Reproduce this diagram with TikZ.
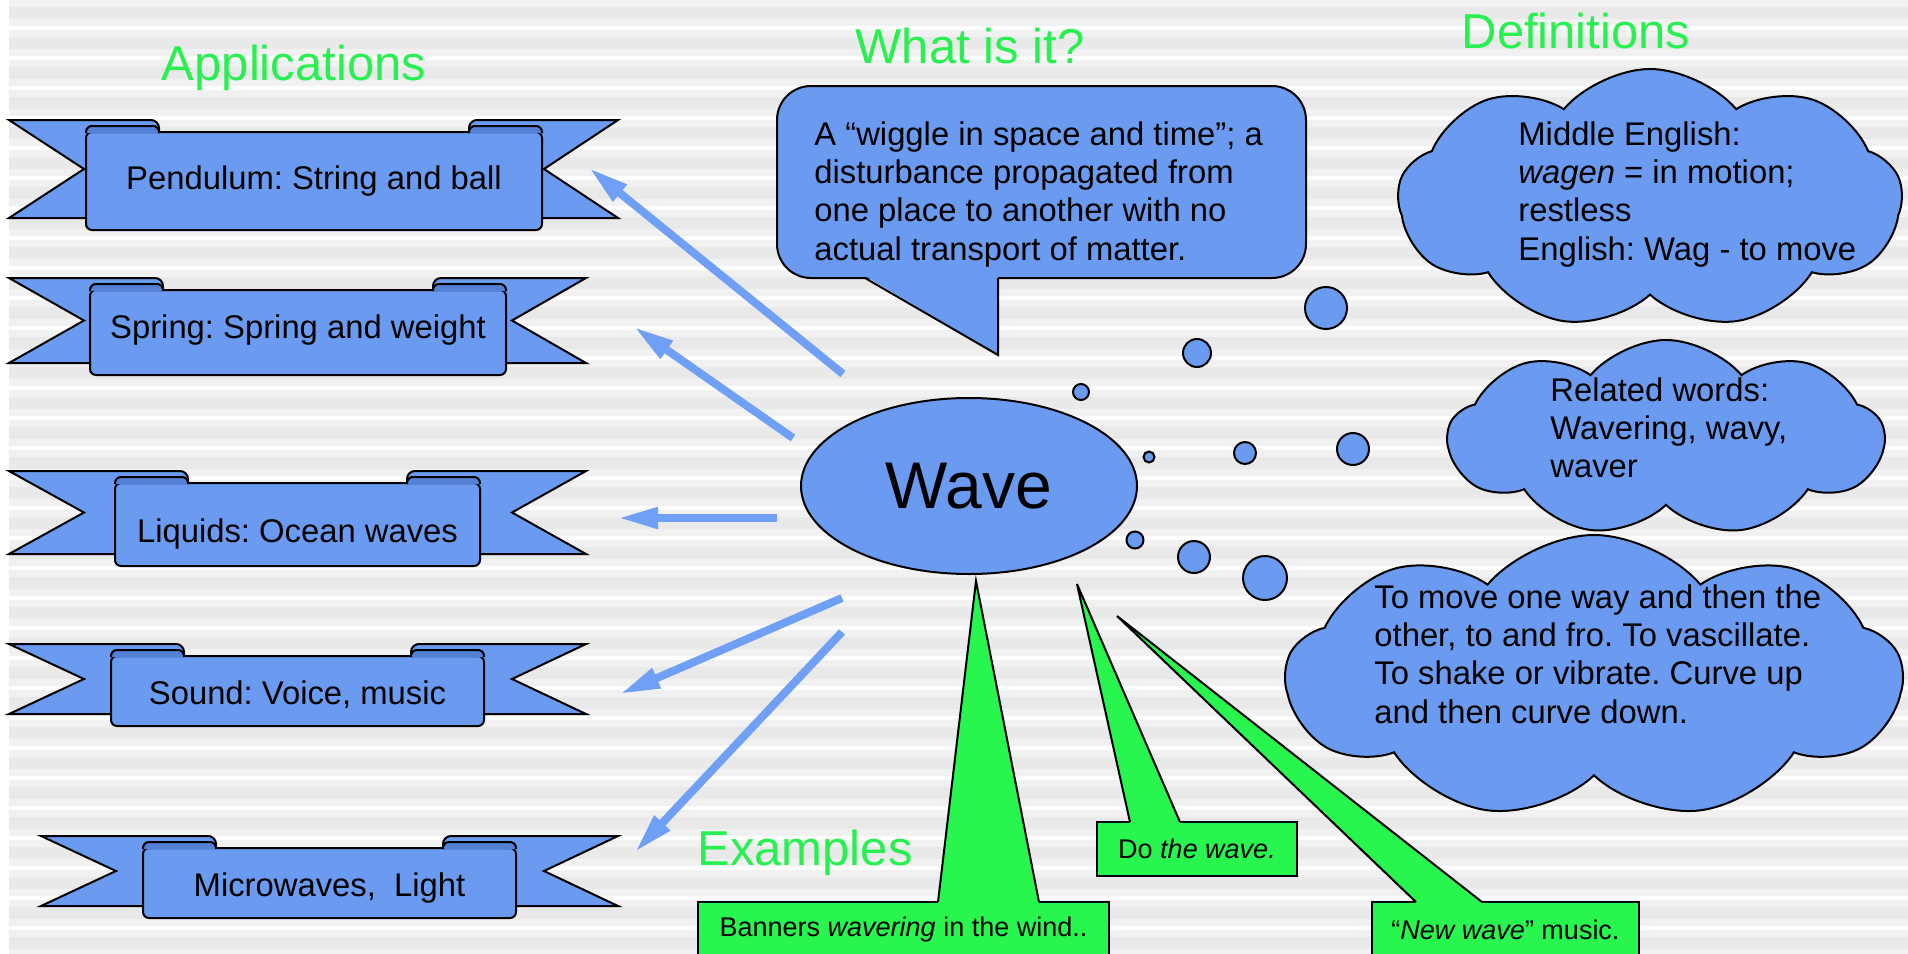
\documentclass[tikz,border=0pt]{standalone}
\usepackage{fontspec}
\setmainfont{Liberation Sans}
\usetikzlibrary{shapes.geometric,shapes.symbols,arrows.meta}
\frenchspacing

\definecolor{shapeblue}{RGB}{106,155,240}
\definecolor{folddark}{RGB}{84,128,214}
\definecolor{arrowblue}{RGB}{111,160,245}
\definecolor{titlegreen}{RGB}{40,240,80}
\definecolor{boxgreen}{RGB}{40,245,78}
\definecolor{bandlight}{RGB}{241,241,241}
\definecolor{banddark}{RGB}{233,233,233}

\begin{document}
\begin{tikzpicture}[x=0.5pt,y=-0.5pt,
  outline/.style={draw=black,line width=1pt},
  bluefill/.style={outline,fill=shapeblue},
  banner/.style={bluefill,rounded corners=3pt,inner sep=0pt,font=\fontsize{16.4}{19.2}\selectfont,text height=12pt,text depth=4pt},
  fold/.style={outline,fill=folddark,rounded corners=3pt},
  bubble/.style={bluefill,circle,inner sep=0pt},
  puff/.style={bluefill,cloud,cloud puffs=9,cloud puff arc=100,cloud ignores aspect,inner sep=0pt},
  bodytext/.style={anchor=north west,inner sep=0pt,align=left,font=\fontsize{16.4}{19.2}\selectfont},
  title/.style={anchor=base,inner sep=0pt,text=titlegreen,font=\fontsize{24.5}{29}\selectfont},
  example/.style={outline,fill=boxgreen,inner sep=0pt,font=\fontsize{13.5}{16}\selectfont},
  arrowline/.style={draw=arrowblue,line width=4pt,-{Triangle[length=20pt,width=10pt]}}]

  \useasboundingbox (0,0) rectangle (1908,954);
  \clip (0,0) rectangle (1908,954);

  % striped background
  \fill[white] (0,0) rectangle (1908,954);
  \foreach \k in {0,...,31}
    {\fill[bandlight] (9,30*\k) rectangle (1908,30*\k+26);
     \fill[banddark] (9,30*\k+7) rectangle (1908,30*\k+19);}

  % Arrows out of the wave
  \foreach \i/\xs/\ys/\xt/\yt in {1/843/374/589/168, 2/793/438/634/327, 3/777/518/618/518,
                                  4/842/598/620/694, 5/842/632/635/852}
    {\coordinate (from\i) at (\xs,\ys);
     \coordinate (to\i) at (\xt,\yt);
     \draw[arrowline] (from\i) -- (to\i);}

  % Banners (name/left/top/right/bottom/left tip/right tip/text drop/text)
  \foreach \name/\xl/\yt/\xr/\yb/\xo/\xe/\dy/\txt in {
      pendulum/86/132/542/230/9/618/0pt/{Pendulum: String and ball},
      spring/90/290/506/375/9/586/1pt/{Spring: Spring and weight},
      liquids/115/483/480/566/9/586/-5pt/{Liquids: Ocean waves},
      sound/111/656/484/726/9/586/-2.5pt/{Sound: Voice, music},
      micro/143/848/516/918/41/618/-2.5pt/{Microwaves,\ \ Light}}
    {\filldraw[bluefill] (\xo,\yb-12) -- (\xo+75,{(\yt+\yb)/2-12}) -- (\xo,\yt-12)
        [rounded corners=4pt] -- (\xl+73,\yt-12) -- (\xl+73,\yb-12) [sharp corners] -- cycle;
     \filldraw[bluefill] (\xe,\yb-12) -- (\xe-74,{(\yt+\yb)/2-12}) -- (\xe,\yt-12)
        [rounded corners=4pt] -- (\xr-73,\yt-12) -- (\xr-73,\yb-12) [sharp corners] -- cycle;
     \node[banner,minimum width={(\xr-\xl)*0.5pt},minimum height={(\yb-\yt)*0.5pt}]
        (\name) at ({(\xl+\xr)/2},{(\yt+\yb)/2}) {\raisebox{\dy}{\txt}};
     \filldraw[fold] (\xl,\yt+1) -- (\xl,\yt-6) -- (\xl+73,\yt-6) -- (\xl+73,\yt+1);
     \filldraw[fold] (\xr-73,\yt+1) -- (\xr-73,\yt-6) -- (\xr,\yt-6) -- (\xr,\yt+1);}

  % What is it? callout
  \node[bluefill,rounded corners=17pt,minimum width=264.5pt,minimum height=96pt,inner sep=0pt]
    (what) at (1041.5,182) {};
  \fill[shapeblue] (865,276) -- (998,355) -- (998,276) -- cycle;
  \draw[outline] (865,278) -- (998,355) -- (998,278);
  \node[bodytext] (whattext) at (814,121)
    {A “wiggle in space and time”; a\\ disturbance propagated from\\ one place to another with no\\ actual transport of matter.};

  % Wave
  \node[bluefill,ellipse,minimum width=168pt,minimum height=88pt,inner sep=0pt,
        font=\fontsize{33}{40}\selectfont] (wave) at (969,486) {Wave};

  % Thought bubbles
  \foreach \i/\x/\y/\r in {1/1081/392/8, 2/1149/457/5.5, 3/1135/540/8.5, 4/1194/557/16,
                           5/1265/578/22, 6/1245/453/11, 7/1353/449/16, 8/1197/353/14, 9/1326/308/21}
    \node[bubble,minimum size={2*\r*0.5pt}] (bub\i) at (\x,\y) {};

  % Definitions clouds
  \node[puff,minimum width=252pt,minimum height=130pt] (def1) at (1650,199) {};
  \node[bodytext] (def1text) at (1518,121)
    {Middle English:\\ \textit{wagen} = in motion;\\ restless\\ English: Wag - to move};
  \node[puff,minimum width=218pt,minimum height=98pt] (def2) at (1666,438) {};
  \node[bodytext] (def2text) at (1550,377) {Related words:\\ Wavering, wavy,\\ waver};
  \node[puff,minimum width=308pt,minimum height=142pt] (def3) at (1594,677) {};
  \node[bodytext] (def3text) at (1374,584)
    {To move one way and then the\\ other, to and fro. To vascillate.\\ To shake or vibrate. Curve up\\ and then curve down.};

  % Examples
  \node[example,minimum width=205.5pt,minimum height=28pt] (banners) at (903.5,930)
    {Banners \textit{wavering} in the wind..};
  \fill[boxgreen] (938,903) -- (976,581) -- (1039,903) -- cycle;
  \draw[outline] (938,902) -- (976,581) -- (1039,902);

  \node[example,minimum width=100pt,minimum height=27pt] (dowave) at (1197,849) {Do \textit{the wave.}};
  \fill[boxgreen] (1130,823) -- (1077,584) -- (1180,823) -- cycle;
  \draw[outline] (1130,822) -- (1077,584) -- (1180,822);

  \node[example,minimum width=133.5pt,minimum height=28pt] (newwave) at (1505.5,930)
    {“\textit{New wave}” music.};
  \fill[boxgreen] (1416,903) -- (1117,616) -- (1482,903) -- cycle;
  \draw[outline] (1416,902) -- (1117,616) -- (1482,902);

  % Titles
  \node[title] (apps) at (294,80) {Applications};
  \node[title] (whatis) at (970,63) {What is it?};
  \node[title] (defs) at (1576,48) {Definitions};
  \node[title] (examples) at (805,865) {Examples};

\end{tikzpicture}
\end{document}
